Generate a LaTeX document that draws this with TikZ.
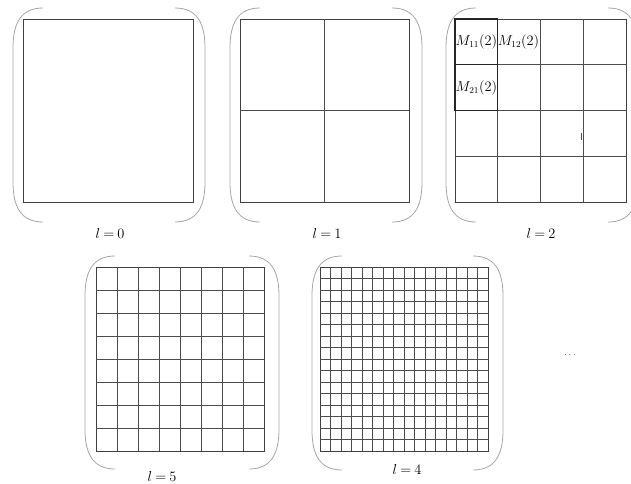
\documentclass[tikz,border=0pt]{standalone}
\begin{document}
\begin{tikzpicture}[x=1pt,y=-1pt,
  frame/.style={draw=black!75,line width=0.9pt},
  gridline/.style={draw=black!70,line width=0.7pt},
  boldcell/.style={draw=black!85,line width=1.3pt},
  paren/.style={draw=black!35,line width=0.8pt},
  levellabel/.style={font=\fontsize{14}{16}\selectfont},
  celllabel/.style={font=\fontsize{13.5}{15}\selectfont,inner sep=0pt}]

\useasboundingbox (0,0) rectangle (631,483);
\clip (0,0) rectangle (631,483);

% Brackets
\foreach \xl/\xr/\yt/\yb in {13/205/8/222, 230/422/8/222, 446/638/8/222,
                             85/279/256/469, 312/503/256/470}{
  \draw[paren]
  (\xl+30,\yt) .. controls (\xl+8,\yt) and (\xl,\yt+15) .. (\xl,\yt+40)
  -- (\xl,\yb-40) .. controls (\xl,\yb-15) and (\xl+8,\yb) .. (\xl+30,\yb);
  \draw[paren]
  (\xr-30,\yt) .. controls (\xr-8,\yt) and (\xr,\yt+15) .. (\xr,\yt+40)
  -- (\xr,\yb-40) .. controls (\xr,\yb-15) and (\xr-8,\yb) .. (\xr-30,\yb);
}

% l = 0
\draw[frame]
(23,19)
rectangle
(193,202);

\node[levellabel] (l0) at (110,233)
{$l\:{=}\:0$};

% l = 1
\draw[frame]
(240,19)
rectangle
(409,202);

\draw[gridline]
(324.5,19)
--
(324.5,202);

\draw[gridline]
(240,110.5)
--
(409,110.5);

\node[levellabel] (l1) at (327,233)
{$l\:{=}\:1$};

% l = 2
\draw[frame]
(455,19)
rectangle
(626,202);

\foreach \i in {1,2,3}{
  \draw[gridline] (455+\i*42.75,19) -- (455+\i*42.75,202);
  \draw[gridline] (455,19+\i*45.75) -- (626,19+\i*45.75);
}

\draw[boldcell]
(455,19)
rectangle
(497.75,110.5);

\draw[boldcell]
(455,64.75)
--
(497.75,64.75);

\draw[gridline]
(581,133)
--
(581,140);

\node[celllabel] (m11) at (476.4,42)
{$M_{11}(2)$};

\node[celllabel] (m12) at (518.5,42)
{$M_{12}(2)$};

\node[celllabel] (m21) at (476.4,88)
{$M_{21}(2)$};

\node[levellabel] (l2) at (541,233)
{$l\:{=}\:2$};

% l = 5
\draw[frame]
(96,267)
rectangle
(264,451);

\foreach \i in {1,...,7}{
  \draw[gridline] (96+\i*21,267) -- (96+\i*21,451);
  \draw[gridline] (96,267+\i*23) -- (264,267+\i*23);
}

\node[levellabel] (l5) at (162,476)
{$l\:{=}\:5$};

% l = 4
\draw[frame]
(320,267)
rectangle
(488,451);

\foreach \i in {1,...,15}{
  \draw[gridline] (320+\i*10.5,267) -- (320+\i*10.5,451);
  \draw[gridline] (320,267+\i*11.5) -- (488,267+\i*11.5);
}

\node[levellabel] (l4) at (407,469)
{$l\:{=}\:4$};

% suite
\node[font=\fontsize{10}{12}\selectfont,text=black!70] (dots) at (570,355)
{$\cdots$};

\end{tikzpicture}
\end{document}
